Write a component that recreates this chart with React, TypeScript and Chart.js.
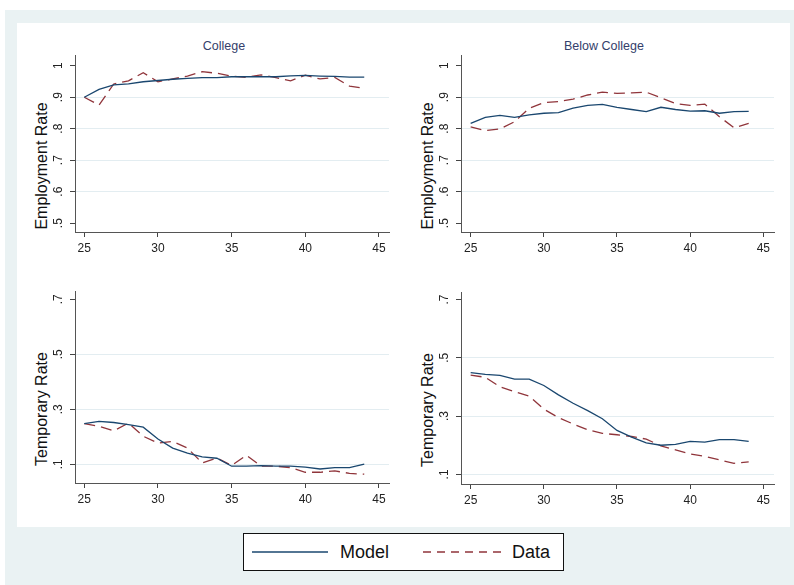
import React, { useEffect, useRef } from "react";
import { Chart, registerables } from "chart.js";

Chart.register(...registerables);

// ---------- data ----------
const ages = [25, 26, 27, 28, 29, 30, 31, 32, 33, 34, 35, 36, 37, 38, 39, 40, 41, 42, 43, 44];

const collegeEmpModel = [0.9, 0.925, 0.939, 0.942, 0.949, 0.953, 0.957, 0.96, 0.962, 0.962, 0.965, 0.965, 0.965, 0.965, 0.968, 0.969, 0.967, 0.966, 0.964, 0.964];
const collegeEmpData = [0.9, 0.875, 0.942, 0.952, 0.978, 0.949, 0.958, 0.967, 0.981, 0.976, 0.967, 0.963, 0.971, 0.962, 0.952, 0.97, 0.958, 0.963, 0.935, 0.928];

const belowEmpModel = [0.817, 0.836, 0.842, 0.836, 0.844, 0.849, 0.851, 0.865, 0.874, 0.877, 0.868, 0.861, 0.854, 0.868, 0.861, 0.856, 0.857, 0.849, 0.854, 0.855];
const belowEmpData = [0.806, 0.794, 0.799, 0.822, 0.865, 0.883, 0.886, 0.894, 0.907, 0.916, 0.912, 0.914, 0.916, 0.898, 0.88, 0.874, 0.878, 0.838, 0.803, 0.817];

const collegeTempModel = [0.248, 0.256, 0.252, 0.244, 0.235, 0.192, 0.159, 0.141, 0.127, 0.122, 0.093, 0.093, 0.095, 0.093, 0.093, 0.09, 0.083, 0.088, 0.088, 0.101];
const collegeTempData = [0.248, 0.238, 0.222, 0.25, 0.202, 0.177, 0.183, 0.159, 0.105, 0.123, 0.096, 0.133, 0.093, 0.093, 0.088, 0.071, 0.071, 0.076, 0.067, 0.064];

const belowTempModel = [0.449, 0.443, 0.44, 0.427, 0.427, 0.405, 0.373, 0.344, 0.319, 0.291, 0.251, 0.228, 0.208, 0.2, 0.203, 0.213, 0.211, 0.219, 0.219, 0.213];
const belowTempData = [0.441, 0.433, 0.401, 0.384, 0.369, 0.324, 0.295, 0.273, 0.253, 0.241, 0.236, 0.23, 0.221, 0.198, 0.184, 0.17, 0.162, 0.15, 0.138, 0.143];

const xTicks = [25, 30, 35, 40, 45];
const xTickLabels = ["25", "30", "35", "40", "45"];
const empTicks = [0.5, 0.6, 0.7, 0.8, 0.9, 1];
const empTickLabels = [".5", ".6", ".7", ".8", ".9", "1"];
const empGrid = [0.6, 0.7, 0.8, 0.9];
const tempTicks = [0.1, 0.3, 0.5, 0.7];
const tempTickLabels = [".1", ".3", ".5", ".7"];
const tempGrid = [0.1, 0.3, 0.5];

const panelTitles = ["College", "Below College"];
const yTitles = ["Employment Rate", "Temporary Rate"];
const seriesNames = ["Model", "Data"];

// ---------- styles ----------
const MODEL_COLOR = "#1a476f";
const DATA_COLOR = "#90353b";
const FONT = "'Liberation Sans', Arial, Helvetica, sans-serif";

type Panel = {
  canvas: { x: number; y: number; w: number; h: number };
  area: { L: number; T: number; R: number; B: number };
  xr: [number, number];
  yr: [number, number];
  model: number[];
  data: number[];
  yTicks: number[];
  yLabels: string[];
  grid: number[];
  yTitle: string;
};

const panels: Panel[] = [
  {
    canvas: { x: 17, y: 23, w: 390, h: 250 },
    area: { L: 75, T: 55, R: 389, B: 232 },
    xr: [24.37, 45.68],
    yr: [0.472, 1.034],
    model: collegeEmpModel,
    data: collegeEmpData,
    yTicks: empTicks,
    yLabels: empTickLabels,
    grid: empGrid,
    yTitle: yTitles[0],
  },
  {
    canvas: { x: 403, y: 23, w: 387, h: 250 },
    area: { L: 461, T: 55, R: 774, B: 232 },
    xr: [24.34, 45.73],
    yr: [0.472, 1.034],
    model: belowEmpModel,
    data: belowEmpData,
    yTicks: empTicks,
    yLabels: empTickLabels,
    grid: empGrid,
    yTitle: yTitles[0],
  },
  {
    canvas: { x: 17, y: 273, w: 390, h: 250 },
    area: { L: 75, T: 291, R: 389, B: 483 },
    xr: [24.37, 45.68],
    yr: [0.032, 0.73],
    model: collegeTempModel,
    data: collegeTempData,
    yTicks: tempTicks,
    yLabels: tempTickLabels,
    grid: tempGrid,
    yTitle: yTitles[1],
  },
  {
    canvas: { x: 403, y: 273, w: 387, h: 250 },
    area: { L: 461, T: 292, R: 774, B: 484 },
    xr: [24.34, 45.73],
    yr: [0.067, 0.726],
    model: belowTempModel,
    data: belowTempData,
    yTicks: tempTicks,
    yLabels: tempTickLabels,
    grid: tempGrid,
    yTitle: yTitles[1],
  },
];

const X_AXIS_H = 28;
const TICK_LEN = 5;

function makeConfig(p: Panel): any {
  const { canvas: c, area: a } = p;
  return {
    type: "line",
    data: {
      datasets: [
        {
          label: seriesNames[0],
          data: ages.map((age, i) => ({ x: age, y: p.model[i] })),
          borderColor: MODEL_COLOR,
          borderWidth: 1.3,
          pointRadius: 0,
          tension: 0,
          fill: false,
        },
        {
          label: seriesNames[1],
          data: ages.map((age, i) => ({ x: age, y: p.data[i] })),
          borderColor: DATA_COLOR,
          borderWidth: 1.3,
          borderDash: [11, 6],
          pointRadius: 0,
          tension: 0,
          fill: false,
        },
      ],
    },
    options: {
      animation: false,
      responsive: false,
      maintainAspectRatio: false,
      layout: {
        padding: {
          left: 0,
          top: a.T - c.y,
          right: c.x + c.w - a.R,
          bottom: c.y + c.h - a.B - X_AXIS_H,
        },
      },
      plugins: {
        legend: { display: false },
        title: { display: false },
        tooltip: { enabled: false },
      },
      scales: {
        x: {
          type: "linear",
          min: p.xr[0],
          max: p.xr[1],
          afterBuildTicks: (axis: any) => {
            axis.ticks = xTicks.map((v) => ({ value: v }));
          },
          afterFit: (axis: any) => {
            axis.height = X_AXIS_H;
          },
          ticks: {
            font: { family: FONT, size: 12 },
            color: "#222",
            padding: 4,
            maxRotation: 0,
            minRotation: 0,
            callback: (_v: any, i: number) => xTickLabels[i],
          },
          grid: {
            drawOnChartArea: false,
            drawTicks: true,
            tickLength: TICK_LEN,
            tickColor: "#444",
            lineWidth: 1,
          },
          border: { display: true, color: "#555", width: 1 },
        },
        y: {
          type: "linear",
          min: p.yr[0],
          max: p.yr[1],
          afterBuildTicks: (axis: any) => {
            axis.ticks = p.yTicks.map((v) => ({ value: v }));
          },
          afterFit: (axis: any) => {
            axis.width = a.L - c.x;
          },
          ticks: {
            font: { family: FONT, size: 12 },
            color: "#222",
            padding: 6,
            minRotation: 90,
            maxRotation: 90,
            crossAlign: "center",
            callback: (_v: any, i: number) => p.yLabels[i],
          },
          grid: {
            drawOnChartArea: true,
            drawTicks: true,
            tickLength: TICK_LEN,
            tickColor: "#444",
            lineWidth: 1,
            color: (ctx: any) => {
              const v = ctx.tick ? ctx.tick.value : null;
              if (v === null) return "rgba(0,0,0,0)";
              return p.grid.some((g) => Math.abs(g - v) < 1e-6) ? "#e3edf1" : "rgba(0,0,0,0)";
            },
          },
          border: { display: true, color: "#555", width: 1 },
          title: { display: false },
        },
      },
    },
  };
}

export default function App() {
  const refs = [useRef<HTMLCanvasElement>(null), useRef<HTMLCanvasElement>(null), useRef<HTMLCanvasElement>(null), useRef<HTMLCanvasElement>(null)];

  useEffect(() => {
    const charts: Chart[] = [];
    panels.forEach((p, i) => {
      const el = refs[i].current;
      if (el) charts.push(new Chart(el, makeConfig(p)));
    });
    return () => charts.forEach((ch) => ch.destroy());
  }, []);

  const titleStyle = (cx: number): React.CSSProperties => ({
    position: "absolute",
    left: cx - 100,
    top: 38.5,
    width: 200,
    textAlign: "center",
    fontFamily: FONT,
    fontSize: 12.5,
    lineHeight: "14px",
    color: "#34406b",
  });

  const yTitleStyle = (cx: number, cy: number): React.CSSProperties => ({
    position: "absolute",
    left: cx - 100,
    top: cy - 10,
    width: 200,
    height: 20,
    lineHeight: "20px",
    textAlign: "center",
    fontFamily: FONT,
    fontSize: 16,
    color: "#111",
    transform: "rotate(-90deg)",
    transformOrigin: "50% 50%",
    whiteSpace: "nowrap",
  });

  return (
    <div style={{ position: "fixed", left: 0, top: 0, width: 794, height: 585, background: "#ffffff", overflow: "hidden" }}>
      <div style={{ position: "absolute", left: 5, top: 10, width: 789, height: 575, background: "#eaf2f3" }} />
      <div style={{ position: "absolute", left: 17, top: 23, width: 773, height: 504, background: "#ffffff" }} />
      <div style={titleStyle(224)}>{panelTitles[0]}</div>
      <div style={titleStyle(604)}>{panelTitles[1]}</div>
      {panels.map((p, i) => (
        <div key={"yt" + i} style={yTitleStyle(p.area.L - 33.5, (p.area.T + p.area.B) / 2 + 22)}>
          {p.yTitle}
        </div>
      ))}
      {panels.map((p, i) => (
        <canvas
          key={i}
          ref={refs[i]}
          width={p.canvas.w}
          height={p.canvas.h}
          style={{ position: "absolute", left: p.canvas.x, top: p.canvas.y, width: p.canvas.w, height: p.canvas.h }}
        />
      ))}
      <div
        style={{
          position: "absolute",
          left: 243,
          top: 533,
          width: 319,
          height: 36,
          background: "#ffffff",
          border: "1px solid #111",
          fontFamily: FONT,
          fontSize: 18,
          color: "#111",
        }}
      >
        <svg width={319} height={36} style={{ position: "absolute", left: 0, top: 0 }}>
          <line x1={8} y1={18} x2={84} y2={18} stroke={MODEL_COLOR} strokeWidth={1.3} />
          <line x1={179} y1={18} x2={257} y2={18} stroke={DATA_COLOR} strokeWidth={1.3} strokeDasharray="8 6" />
        </svg>
        <div style={{ position: "absolute", left: 96, top: 7, lineHeight: "22px" }}>{seriesNames[0]}</div>
        <div style={{ position: "absolute", left: 268, top: 7, lineHeight: "22px" }}>{seriesNames[1]}</div>
      </div>
    </div>
  );
}
